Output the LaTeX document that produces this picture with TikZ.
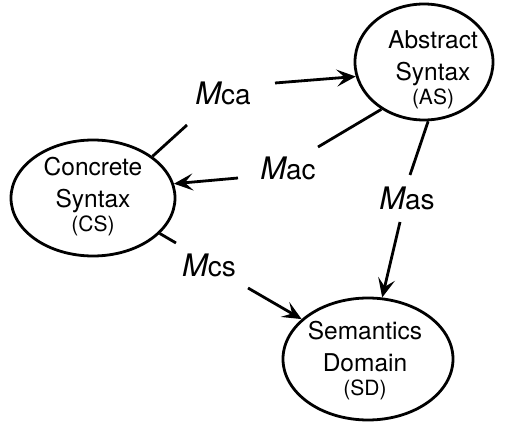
\documentclass[tikz,border=0pt]{standalone}
\usepackage{fontspec}
\setmainfont{TeX Gyre Heros}
\usetikzlibrary{shapes.geometric,arrows.meta}

% mapping label: slanted M followed by the two-letter index
\newcommand{\mapname}[1]{{\fontsize{31}{31}\selectfont\itshape M}{\fontsize{28}{28}\selectfont #1}}

\begin{document}
\begin{tikzpicture}[x=1pt,y=-1pt,
  domainbox/.style={ellipse,draw,line width=2.8pt,inner sep=0pt},
  domtext/.style={align=center,font=\fontsize{24.5}{32}\selectfont,inner sep=0pt},
  maplabel/.style={anchor=base,inner sep=0pt},
  link/.style={line width=2.8pt},
  maparrow/.style={line width=2.8pt,-{Stealth[length=19pt,width=17pt,inset=8pt]}}
]
\useasboundingbox (0,0) rectangle (507,422);

% the three domains
\node[domainbox,minimum width=138pt,minimum height=116pt] (as) at (424,62) {};
\node[domainbox,minimum width=164pt,minimum height=116pt] (cs) at (93,198) {};
\node[domainbox,minimum width=170pt,minimum height=122pt] (sd) at (368,359) {};

\node[domtext] (astext) at (433,70) {Abstract\\Syntax\\[-8pt]{\fontsize{21}{21}\selectfont (AS)}};
\node[domtext] (cstext) at (93,197) {Concrete\\Syntax\\[-8pt]{\fontsize{21}{21}\selectfont (CS)}};
\node[domtext] (sdtext) at (365,361) {Semantics\\Domain\\[-8pt]{\fontsize{21}{21}\selectfont (SD)}};

% mapping labels
\node[maplabel] (mca) at (223,105) {\mapname{ca}};
\node[maplabel] (mac) at (288,180) {\mapname{ac}};
\node[maplabel] (mas) at (407,210) {\mapname{as}};
\node[maplabel] (mcs) at (209,277) {\mapname{cs}};

% free ends of the split connectors
\coordinate (ca1) at (187,125);
\coordinate (ca2) at (275,83);
\coordinate (ac1) at (318,147);
\coordinate (ac2) at (238,178);
\coordinate (as1) at (410,175);
\coordinate (as2) at (400,222);
\coordinate (cs1) at (176,243);
\coordinate (cs2) at (248,288);

% Mca: CS -> AS
\draw[link] (cs.35) -- (ca1);
\draw[maparrow] (ca2) -- (as.192);
% Mac: AS -> CS
\draw[link] (as.228) -- (ac1);
\draw[maparrow] (ac2) -- (cs.10);
% Mas: AS -> SD
\draw[link] (as.274) -- (as1);
\draw[maparrow] (as2) -- (sd.77);
% Mcs: CS -> SD
\draw[link] (cs.-28) -- (cs1);
\draw[maparrow] (cs2) -- (sd.149);
\end{tikzpicture}
\end{document}
